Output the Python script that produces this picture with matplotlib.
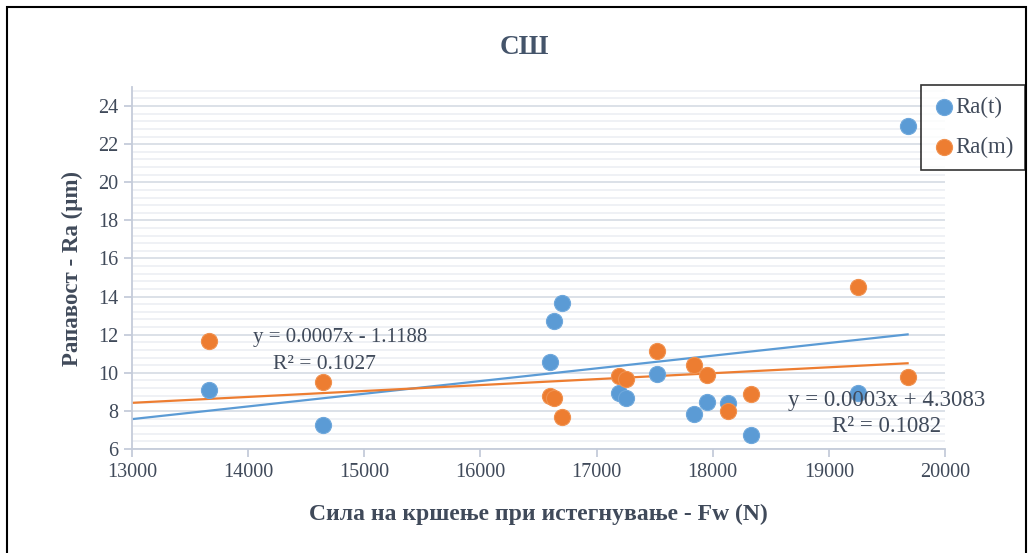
import numpy as np
import matplotlib
matplotlib.use("Agg")
import matplotlib.pyplot as plt
from matplotlib.patches import Rectangle
from matplotlib.ticker import MultipleLocator

# Data
fw = [13663, 14644, 16597, 16632, 16700, 17191, 17251, 17518, 17836, 17948, 18129, 18327, 19248, 19678]
ra_t = [9.10, 7.26, 10.57, 12.72, 13.66, 8.94, 8.68, 9.94, 7.84, 8.47, 8.41, 6.73, 8.94, 22.96]
ra_m = [11.67, 9.52, 8.78, 8.68, 7.68, 9.83, 9.67, 11.14, 10.41, 9.88, 7.99, 8.89, 14.50, 9.78]
series_names = ["Ra(t)", "Ra(m)"]
# trendline coefficients (slope, intercept) as drawn in the chart
trend_t = [0.000666, -1.09]
trend_m = [0.000311, 4.38]
trend_x = [13000, 19678]
eq_t = ["y = 0.0007x - 1.1188", "R² = 0.1027"]
eq_m = ["y = 0.0003x + 4.3083", "R² = 0.1082"]
title = "СШ"
xlabel = "Сила на кршење при истегнување - Fw (N)"
ylabel = "Рапавост - Ra (µm)"

blue = "#5B9BD5"
orange = "#ED7D31"
txt = "#404A5A"
plt.rcParams['font.family'] = ['Liberation Serif', 'DejaVu Serif']

W, H = 1029, 553
fig = plt.figure(figsize=(W / 100, H / 100), dpi=100)
ax = fig.add_axes([132 / W, 1 - 449 / H, (945 - 132) / W, (449 - 87) / H])

x = np.array(fw, dtype=float)
ax.set_xlim(13000, 20000)
ax.set_ylim(6, 25)
ax.xaxis.set_major_locator(MultipleLocator(1000))
ax.yaxis.set_major_locator(MultipleLocator(2))
ax.yaxis.set_minor_locator(MultipleLocator(0.4))
ax.grid(which='major', axis='y', color='#D9DEE6', lw=1.3, zorder=0)
ax.grid(which='minor', axis='y', color='#EEF0F4', lw=1.3, zorder=0)
ax.set_axisbelow(True)

for s in ['top', 'right']:
    ax.spines[s].set_visible(False)
for s in ['left', 'bottom']:
    ax.spines[s].set_color('#C5CCDA')
    ax.spines[s].set_linewidth(1.3)
ax.tick_params(which='major', length=6, color='#C5CCDA', width=1.3, labelsize=14.5, labelcolor=txt, pad=4)
ax.tick_params(which='minor', length=0)

# trendlines
xx = np.array(trend_x, dtype=float)
for p, col in [(trend_t, blue), (trend_m, orange)]:
    ax.plot(xx, np.polyval(p, xx), color=col, lw=1.6, zorder=2)

ax.scatter(x, ra_t, s=135, color=blue, edgecolor='#6FA8DC', lw=0.8, zorder=3, label=series_names[0])
ax.scatter(x, ra_m, s=135, color=orange, edgecolor='#F0914F', lw=0.8, zorder=3, label=series_names[1])

ax.text(14790, 11.83, eq_t[0], ha='center', va='center', fontsize=15, color=txt, zorder=4)
ax.text(14661, 10.46, eq_t[1], ha='center', va='center', fontsize=15.5, color=txt, zorder=4)
ax.text(19497, 8.57, eq_m[0], ha='center', va='center', fontsize=16.5, color=txt, zorder=4)
ax.text(19497, 7.2, eq_m[1], ha='center', va='center', fontsize=16.5, color=txt, zorder=4)

ax.set_xlabel(xlabel, fontsize=17, fontweight='bold', color=txt, labelpad=16)
ax.set_ylabel(ylabel, fontsize=16.5, fontweight='bold', color=txt, labelpad=11)
fig.text(524 / W, 1 - 48 / H, title, ha='center', va='center', fontsize=19.5, fontweight='bold', color='#44546A')

leg = fig.legend(loc='upper left', bbox_to_anchor=(921 / W, 1 - 85 / H), fontsize=16.5,
                 frameon=True, fancybox=False, edgecolor='black', labelcolor=txt,
                 handletextpad=0.0, borderpad=0.5, labelspacing=0.85, handlelength=1.0,
                 borderaxespad=0)
leg.get_frame().set_linewidth(1.2)

fig.patches.append(Rectangle((7 / W, -0.05), (1026 - 7) / W, 1 - 7 / H + 0.05, transform=fig.transFigure,
                             fill=False, edgecolor='black', lw=1.5))

fig.savefig("out.png", dpi=100)
